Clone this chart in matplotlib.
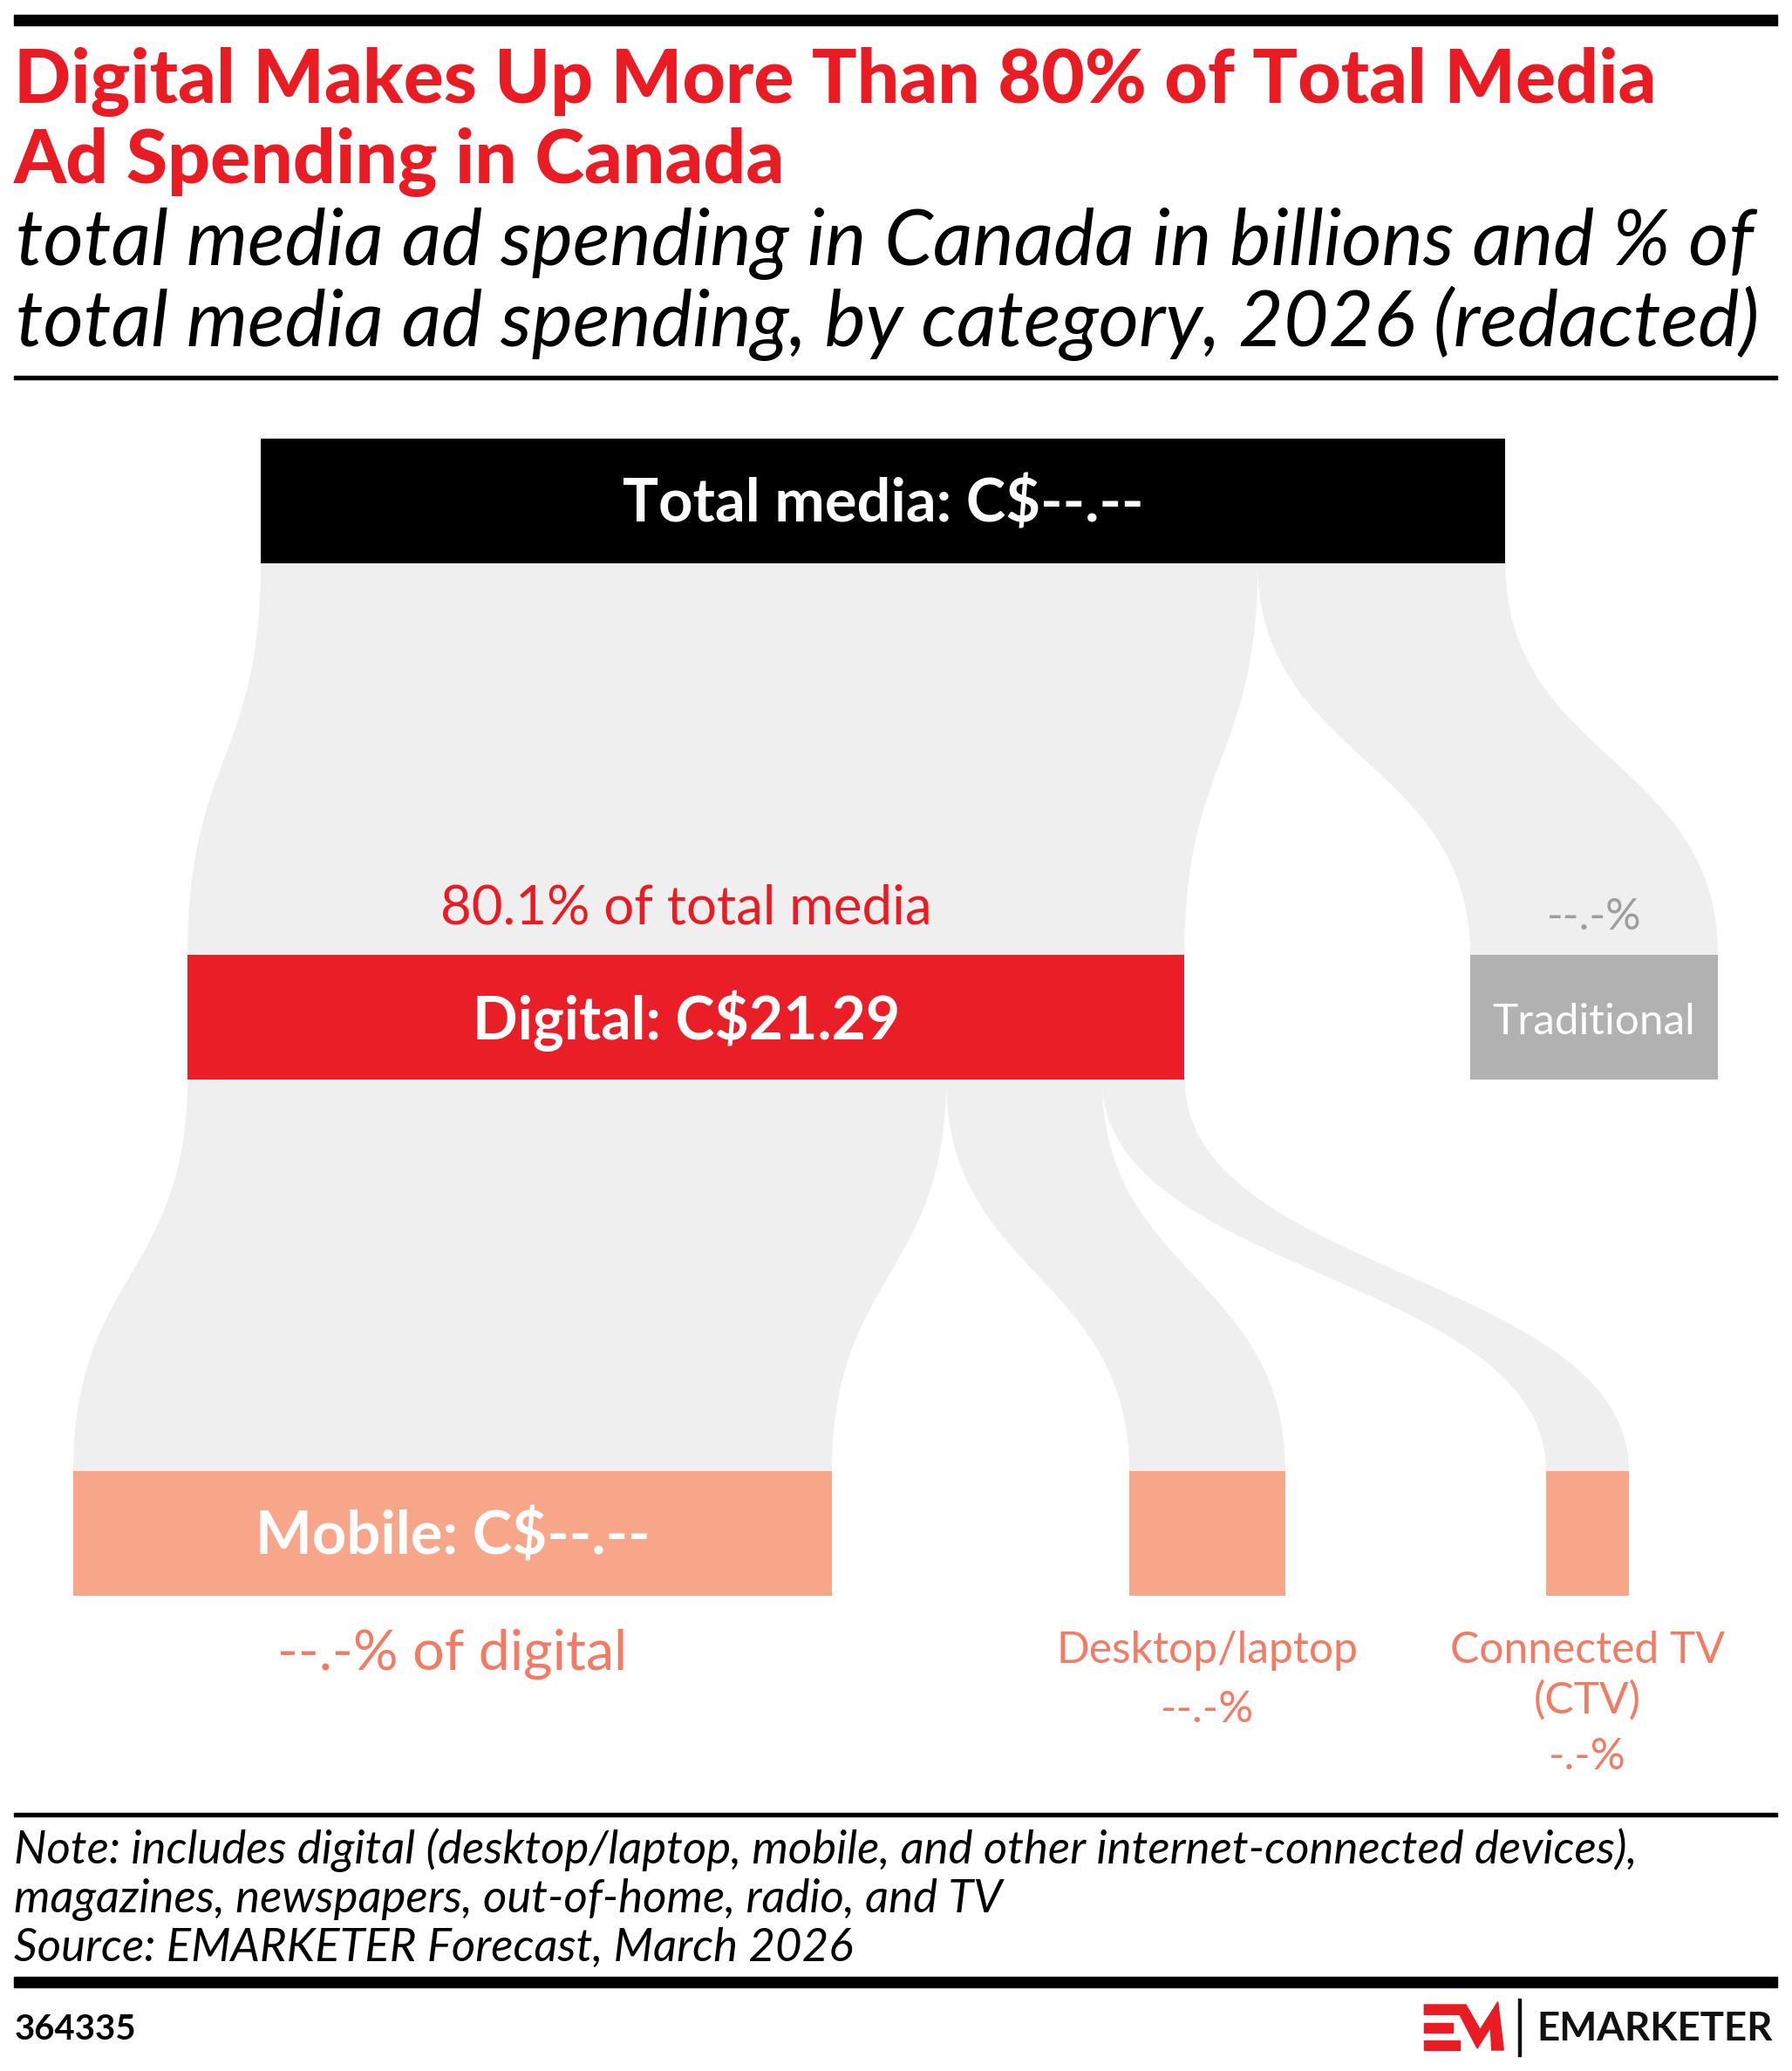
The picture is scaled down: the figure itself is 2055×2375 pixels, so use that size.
import matplotlib
matplotlib.use("Agg")
import matplotlib.pyplot as plt
from matplotlib.path import Path
from matplotlib.patches import PathPatch, Rectangle, Polygon

# --- data: total media ad spending in Canada, C$ billions, 2026 ---
nodes = ["Total media", "Digital", "Traditional", "Mobile", "Desktop/laptop", "Connected TV (CTV)"]
spend = [26.58, 21.29, 5.29, 16.20, 3.33, 1.77]
links = [(0, 1), (0, 2), (1, 3), (1, 4), (1, 5)]
node_labels = ["Total media: C$--.--", "Digital: C$21.29", "Traditional", "Mobile: C$--.--"]
share_labels = ["", "80.1% of total media", "--.-%", "--.-% of digital", "--.-%", "-.-%"]

# --- layout (pixels) ---
W, H = 2055, 2375
node_row = [0, 1, 1, 2, 2, 2]
node_left = [299, 215, 1686, 84, 1295, 1773]
row_top = [503, 1095, 1687]
NODE_H = 143
PX_PER_B = 53.7

RED = "#e91c24"
SALMON = "#f7a68a"
SALMON_TXT = "#f37b63"
node_colors = ["#000000", "#e91e27", "#b2b1b1", SALMON, SALMON, SALMON]
FONT = "Lato"

fig = plt.figure(figsize=(W / 100, H / 100), dpi=100)
ax = fig.add_axes([0, 0, 1, 1])
ax.set_xlim(0, W)
ax.set_ylim(H, 0)
ax.axis("off")
renderer = fig.canvas.get_renderer()


def fit_text(x, y, s, width, **kw):
    # place text, then scale its size so it spans `width` pixels
    t = ax.text(x, y, s, family=FONT, va="baseline", **kw)
    bb = t.get_window_extent(renderer)
    t.set_fontsize(t.get_fontsize() * width / bb.width)
    return t.get_fontsize()


widths = [v * PX_PER_B for v in spend]
tops = [row_top[r] for r in node_row]

# links (flows)
used = [0.0] * len(nodes)
for s, t in links:
    w = widths[t]
    sx0 = node_left[s] + used[s]
    sx1 = sx0 + w
    used[s] += w
    tx0 = node_left[t]
    tx1 = tx0 + w
    ys = tops[s] + NODE_H
    yt = tops[t]
    ym = (ys + yt) / 2
    verts = [(sx0, ys), (sx0, ym), (tx0, ym), (tx0, yt), (tx1, yt),
             (tx1, ym), (sx1, ym), (sx1, ys), (sx0, ys)]
    codes = [Path.MOVETO, Path.CURVE4, Path.CURVE4, Path.CURVE4, Path.LINETO,
             Path.CURVE4, Path.CURVE4, Path.CURVE4, Path.CLOSEPOLY]
    ax.add_patch(PathPatch(Path(verts, codes), fc="#efefef", ec="none", zorder=1))

# nodes
ax.bar(node_left, NODE_H, width=widths, bottom=tops, align="edge",
       color=node_colors, zorder=2)

cx = [l + w / 2 for l, w in zip(node_left, widths)]
bottoms = [t + NODE_H for t in tops]

# node labels
fit_text(cx[0], tops[0] + 96, node_labels[0], 599, ha="center", color="white",
         fontweight="bold", fontsize=45, zorder=3)
fit_text(cx[1], tops[1] + 97, node_labels[1], 491, ha="center", color="white",
         fontweight="bold", fontsize=45, zorder=3)
fit_text(cx[2], tops[2] + 91, node_labels[2], 233, ha="center", color="white",
         fontsize=34, zorder=3)
fit_text(cx[3], tops[3] + 96, node_labels[3], 454, ha="center", color="white",
         fontweight="bold", fontsize=45, zorder=3)

# share labels
fit_text(cx[1], tops[1] - 35, share_labels[1], 564, ha="center", color=RED, fontsize=42, zorder=3)
fit_text(cx[2], tops[2] - 29, share_labels[2], 109, ha="center", color="#9e9e9e", fontsize=33, zorder=3)
fit_text(cx[3], bottoms[3] + 85, share_labels[3], 401, ha="center", color=SALMON_TXT,
         fontsize=42, zorder=3)
fs = fit_text(cx[4], bottoms[4] + 77, "Desktop/laptop", 346, ha="center", color=SALMON_TXT,
              fontsize=34, zorder=3)
ax.text(cx[4], bottoms[4] + 145, share_labels[4], ha="center", va="baseline",
        color=SALMON_TXT, fontsize=fs, family=FONT, zorder=3)
for k, line in enumerate(["Connected TV", "(CTV)"]):
    ax.text(cx[5], bottoms[5] + 77 + 58 * k, line, ha="center", va="baseline",
            color=SALMON_TXT, fontsize=fs, family=FONT, zorder=3)
ax.text(cx[5], bottoms[5] + 199, share_labels[5], ha="center", va="baseline",
        color=SALMON_TXT, fontsize=fs, family=FONT, zorder=3)

# header
ax.add_patch(Rectangle((16, 17), 2022, 12, color="black"))
fs = fit_text(16, 118, "Digital Makes Up More Than 80% of Total Media", 1884, color=RED,
              fontsize=60, fontweight="black")
ax.text(16, 210, "Ad Spending in Canada", color=RED, fontsize=fs, fontweight="black",
        family=FONT, va="baseline")
fs = fit_text(18, 304, "total media ad spending in Canada in billions and % of", 1994,
              color="black", fontsize=55, style="italic")
ax.text(18, 397, "total media ad spending, by category, 2026 (redacted)", color="black",
        fontsize=fs, style="italic", family=FONT, va="baseline")
ax.add_patch(Rectangle((16, 431), 2022, 4, color="black"))

# footer
ax.add_patch(Rectangle((16, 2079), 2022, 4, color="black"))
notes = ["Note: includes digital (desktop/laptop, mobile, and other internet-connected devices),",
         "magazines, newspapers, out-of-home, radio, and TV",
         "Source: EMARKETER Forecast, March 2026"]
fs = fit_text(16, 2137, notes[0], 1861, color="black", fontsize=34, style="italic")
for k, line in enumerate(notes[1:], start=1):
    ax.text(16, 2137 + 56 * k, line, color="black", fontsize=fs, style="italic",
            family=FONT, va="baseline")
ax.add_patch(Rectangle((16, 2267), 2022, 12, color="black"))
fit_text(17, 2339, "364335", 140, color="black", fontsize=26, fontweight="bold")

# logo
def lp(pts):
    return [(1620 + x / 3, 2285 + y / 3) for x, y in pts]

ax.add_patch(Polygon(lp([(40, 42), (183, 42), (232, 128), (293, 32), (313, 198), (272, 198),
                         (268, 120), (222, 192), (162, 76), (40, 76)]), color=RED))
ax.add_patch(Polygon(lp([(40, 105), (138, 105), (138, 138), (40, 138)]), color=RED))
ax.add_patch(Polygon(lp([(40, 165), (162, 165), (162, 198), (40, 198)]), color=RED))
ax.add_patch(Rectangle((1741, 2292), 3, 66, color="#111111"))
fit_text(1762, 2340, "EMARKETER", 271, color="#111111", fontsize=30, fontweight="bold")

fig.savefig("out.png", dpi=100)
